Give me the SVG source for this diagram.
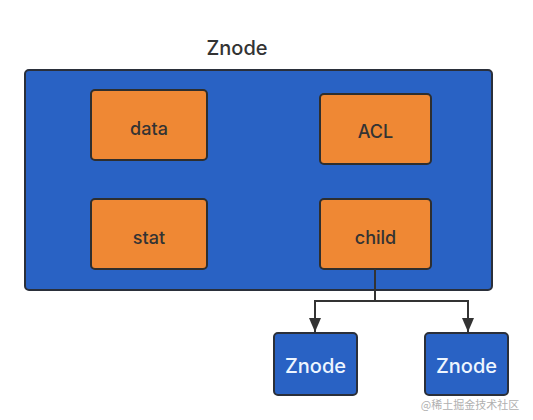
<svg xmlns="http://www.w3.org/2000/svg" width="533" height="420" viewBox="0 0 533 420">
<style>
.blue{fill:#2962c4;stroke:#2a2f3a;stroke-width:2}
.org{fill:#ef8834;stroke:#2e2e2e;stroke-width:2}
.t{font-family:Inter,"Liberation Sans",Arial,sans-serif;font-size:18px;font-weight:500;text-anchor:middle;dominant-baseline:central;fill:#333}
.w{fill:#eef6ff;font-size:20px}
.line{fill:none;stroke:#333;stroke-width:2}
</style>
<defs>
<marker id="ah" viewBox="0 0 12 14" refX="6" refY="14" markerWidth="12" markerHeight="14" orient="0" markerUnits="userSpaceOnUse" overflow="visible">
<path d="M0,0 L12,0 L6,14 z" fill="#333"/>
</marker>
</defs>
<rect width="533" height="420" fill="#fff"/>
<text class="t" x="237" y="48" style="font-size:20px">Znode</text>
<g id="znode-main"><rect class="blue" x="25" y="70" width="467" height="220" rx="4"/></g>
<g id="data"><rect class="org" x="91" y="90" width="116" height="70" rx="4"/><text class="t" x="149" y="128">data</text></g>
<g id="acl"><rect class="org" x="320" y="94" width="111" height="70" rx="4"/><text class="t" x="375.5" y="131">ACL</text></g>
<g id="stat"><rect class="org" x="91" y="199" width="116" height="70" rx="4"/><text class="t" x="149" y="237">stat</text></g>
<g id="child"><rect class="org" x="320" y="199" width="111" height="70" rx="4"/><text class="t" x="375.5" y="237">child</text></g>
<g id="connectors">
<path class="line" d="M375,269 V301 H315 V332" marker-end="url(#ah)"/>
<path class="line" d="M375,301 H468 V332" marker-end="url(#ah)"/>
</g>
<g id="znode-left"><rect class="blue" x="274" y="333" width="83" height="62" rx="4"/><text class="t w" x="315.5" y="366">Znode</text></g>
<g id="znode-right"><rect class="blue" x="425" y="333" width="83" height="62" rx="4"/><text class="t w" x="466.5" y="366">Znode</text></g>
<text x="470" y="404" style="font-family:'Noto Sans CJK SC',sans-serif;font-size:11px;fill:#b0b0b0;text-anchor:middle;dominant-baseline:central">@稀土掘金技术社区</text>
</svg>
